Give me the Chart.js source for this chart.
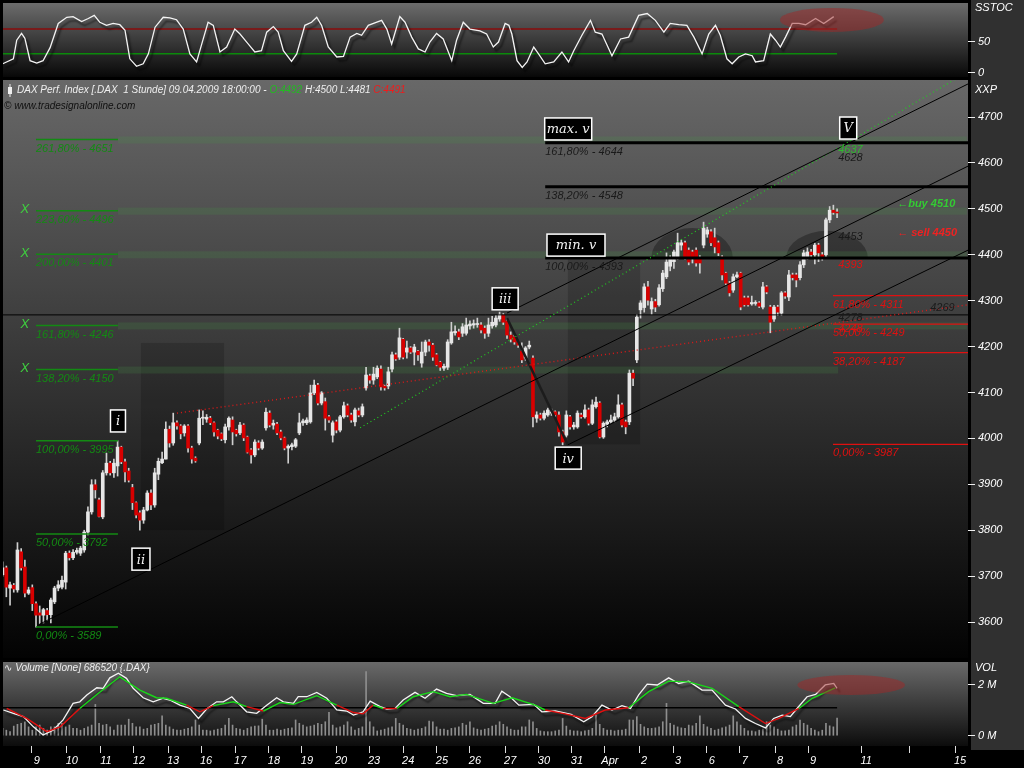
<!DOCTYPE html>
<html>
<head>
<meta charset="utf-8">
<script src="https://cdn.jsdelivr.net/npm/chart.js@4.4.1/dist/chart.umd.min.js"></script>
<style>
html, body { margin: 0; padding: 0; background: #000; width: 1024px; height: 768px; overflow: hidden; }
canvas { position: absolute; left: 0; display: block; }
</style>
</head>
<body>
<canvas id="stoc" width="1024" height="80" style="top:0"></canvas>
<canvas id="price" width="1024" height="580" style="top:80px"></canvas>
<canvas id="vol" width="1024" height="108" style="top:660px"></canvas>
<script>
// hourly DAX candles, 06.03.2009 - 09.04.2009 (one row per trading day)
var open = [
  3703,3718,3674,3680,3670,3753,3720,3663,3675,
  3640,3620,3615,3625,3616,3644,3674,3676,3687,
  3750,3740,3752,3750,3757,3796,3840,3899,3866,
  3829,3925,3946,3925,3940,3981,3949,3929,3893,
  3860,3838,3822,3844,3881,3855,3922,3947,3955,
  4020,3990,4034,4027,4012,4027,3979,3957,
  3990,4044,4042,4044,4034,4018,4010,3997,4025,
  4040,4018,4012,4029,4003,3975,3964,3990,3979,
  4023,4055,4029,4031,4014,4001,3979,3982,3983,
  4012,4034,4034,4036,4099,4116,4077,4080,4047,
  4007,4036,4018,4047,4071,4051,4036,4060,4051,
  4110,4136,4127,4134,4151,4114,4114,4151,4182,
  4177,4216,4188,4197,4188,4190,4164,4188,4210,
  4203,4182,4166,4153,4155,4208,4230,4232,4229,
  4229,4245,4247,4248,4247,4240,4229,4245,4247,
  4260,4269,4256,4225,4221,4210,4190,4175,4199,
  4175,4044,4051,4044,4051,4055,4058,4051,4014,
  4007,4047,4025,4025,4051,4047,4062,4033,4069,
  4077,4003,4031,4036,4040,4047,4073,4036,4036,4142,
  4171,4280,4285,4330,4282,4298,4291,4326,4352,
  4375,4385,4395,4421,4426,4410,4406,4410,4393,
  4421,4445,4450,4437,4426,4395,4360,4338,4323,
  4352,4360,4306,4306,4293,4294,4295,4286,4330,4286,
  4260,4286,4273,4317,4308,4356,4356,4350,4378,
  4395,4406,4400,4421,4400,4400,4476,4497,4492
];
var high = [
  3731,3722,3687,3684,3773,3760,3735,3676,3681,
  3644,3635,3630,3630,3652,3678,3690,3700,3754,
  3755,3758,3761,3765,3800,3851,3910,3910,3870,
  3930,3968,3950,3955,3995,3983,3955,3935,3900,
  3862,3842,3850,3886,3888,3935,3957,3970,4036,
  4027,4055,4038,4030,4030,4030,3983,3960,
  4062,4060,4052,4048,4036,4020,4012,4031,4047,
  4047,4020,4035,4032,4005,3978,3997,3995,3997,
  4066,4060,4040,4035,4018,4003,3986,3990,4000,
  4055,4042,4045,4116,4127,4120,4102,4088,4050,
  4038,4040,4050,4079,4075,4055,4066,4066,4075,
  4155,4140,4155,4158,4158,4116,4155,4188,4186,
  4240,4218,4212,4200,4205,4192,4210,4214,4215,
  4207,4185,4168,4162,4215,4253,4245,4238,4250,
  4262,4256,4258,4262,4252,4245,4262,4266,4268,
  4275,4272,4260,4232,4225,4212,4208,4200,4212,
  4180,4058,4055,4060,4066,4064,4060,4058,4018,
  4060,4050,4035,4060,4055,4073,4066,4084,4090,
  4080,4036,4040,4051,4055,4095,4077,4040,4149,4149,
  4270,4300,4337,4342,4306,4303,4335,4366,4404,
  4398,4410,4447,4432,4430,4415,4410,4415,4398,
  4471,4460,4455,4458,4430,4398,4362,4342,4358,
  4362,4362,4310,4310,4310,4300,4298,4340,4333,4290,
  4290,4290,4320,4320,4366,4360,4360,4385,4410,
  4415,4412,4425,4425,4405,4480,4505,4508,4500
];
var low = [
  3700,3655,3637,3665,3665,3713,3655,3660,3625,
  3589,3597,3598,3603,3598,3640,3668,3672,3672,
  3735,3736,3748,3745,3752,3790,3835,3870,3829,
  3825,3920,3920,3915,3918,3945,3905,3905,3845,
  3827,3800,3815,3842,3845,3850,3910,3945,3955,
  3981,3985,4020,3999,4005,3970,3946,3948,
  3986,4030,4035,4030,4005,3999,3995,3990,4018,
  3986,4005,4008,3995,3968,3946,3960,3975,3976,
  4018,4025,4020,4008,3997,3975,3946,3975,3980,
  4008,4028,4030,4033,4095,4073,4073,4018,4035,
  3992,4012,4014,4044,4047,4035,4027,4047,4047,
  4105,4120,4118,4130,4105,4105,4108,4145,4170,
  4172,4173,4175,4185,4160,4170,4155,4180,4190,
  4170,4158,4148,4148,4150,4205,4225,4215,4222,
  4225,4238,4240,4242,4230,4218,4222,4240,4243,
  4255,4248,4218,4210,4205,4198,4165,4170,4195,
  4025,4035,4040,4040,4048,4050,4046,4005,3986,
  4003,4020,4020,4022,4044,4044,4029,4030,4066,
  4001,4000,4025,4033,4036,4044,4025,4010,4030,4115,
  4165,4262,4275,4290,4270,4276,4288,4320,4348,
  4365,4370,4390,4410,4390,4378,4382,4375,4360,
  4415,4438,4420,4404,4398,4345,4335,4310,4318,
  4350,4280,4288,4288,4290,4290,4285,4282,4315,4230,
  4255,4268,4268,4305,4300,4345,4330,4345,4372,
  4390,4395,4380,4385,4388,4396,4470,4488,4481
];
var close = [
  3718,3676,3681,3672,3757,3718,3663,3670,3640,
  3615,3615,3627,3616,3648,3674,3681,3691,3750,
  3740,3752,3756,3761,3796,3840,3899,3888,3830,
  3925,3946,3925,3946,3981,3949,3927,3909,3860,
  3833,3822,3844,3881,3855,3925,3950,3955,4020,
  3990,4034,4027,4010,4027,3979,3955,3951,
  4044,4046,4046,4034,4014,4005,3999,4025,4044,
  4014,4010,4029,4001,3970,3964,3992,3979,3992,
  4057,4029,4033,4012,4001,3979,3983,3986,3997,
  4034,4038,4040,4099,4116,4077,4099,4044,4040,
  4034,4018,4047,4071,4051,4040,4062,4051,4069,
  4138,4127,4140,4153,4112,4110,4145,4182,4173,
  4219,4177,4197,4188,4199,4182,4188,4210,4203,
  4177,4160,4155,4157,4210,4232,4233,4221,4243,
  4247,4249,4250,4249,4236,4229,4247,4253,4262,
  4269,4253,4225,4216,4210,4203,4171,4197,4203,
  4047,4051,4044,4055,4062,4058,4051,4014,3992,
  4051,4025,4029,4055,4047,4062,4033,4073,4079,
  4003,4033,4036,4040,4047,4073,4029,4025,4142,4131,
  4264,4295,4330,4301,4298,4286,4328,4360,4384,
  4393,4406,4426,4426,4395,4384,4395,4382,4382,
  4458,4454,4426,4417,4404,4356,4338,4317,4352,
  4356,4286,4291,4291,4296,4296,4288,4330,4319,4253,
  4286,4275,4317,4310,4356,4350,4345,4378,4404,
  4406,4400,4421,4404,4395,4476,4497,4492,4491
];
// volume per candle, millions
var volume = [
  0.29,0.22,0.16,0.38,0.45,0.49,0.55,0.35,0.22,
  0.35,0.42,0.29,0.22,0.35,0.35,0.49,0.49,0.35,
  0.42,0.29,0.29,0.22,0.29,0.35,0.42,1.23,0.49,
  0.42,0.45,0.35,0.22,0.42,0.42,0.42,0.65,0.49,
  0.35,0.35,0.26,0.29,0.42,0.45,0.49,0.78,0.42,
  0.35,0.26,0.22,0.22,0.26,0.29,0.35,0.62,0.42,
  0.22,0.22,0.19,0.22,0.26,0.29,0.42,0.68,0.42,
  0.29,0.26,0.22,0.29,0.35,0.38,0.39,0.65,0.42,
  0.22,0.22,0.26,0.22,0.26,0.29,0.31,0.62,0.49,
  0.42,0.35,0.38,0.42,0.49,0.45,0.55,0.92,0.42,
  0.31,0.35,0.42,0.55,0.35,0.22,0.29,0.35,2.51,
  0.55,0.35,0.19,0.22,0.26,0.31,0.35,0.68,0.49,
  0.42,0.29,0.26,0.22,0.26,0.29,0.35,0.58,0.55,
  0.35,0.26,0.26,0.22,0.29,0.31,0.35,0.49,0.42,
  0.55,0.31,0.26,0.22,0.26,0.29,0.38,0.42,0.55,
  0.45,0.35,0.26,0.22,0.22,0.35,0.35,0.62,0.55,
  0.29,0.19,0.16,0.16,0.16,0.19,0.22,0.68,0.38,
  0.22,0.19,0.19,0.16,0.19,0.22,0.29,0.81,0.45,
  0.29,0.22,0.22,0.19,0.22,0.22,0.26,0.62,0.62,
  0.75,0.45,0.35,0.29,0.29,0.31,0.35,0.55,1.27,
  0.49,0.42,0.35,0.31,0.29,0.42,0.39,0.49,0.78,
  0.45,0.35,0.29,0.22,0.26,0.31,0.35,0.42,0.78,
  0.55,0.42,0.29,0.19,0.19,0.16,0.22,0.26,0.55,
  0.42,0.35,0.26,0.19,0.19,0.22,0.35,0.42,0.62,
  0.49,0.42,0.29,0.22,0.16,0.22,0.49,0.39,0.35,
  0.69
];

// SSTOC readings (candle position, value)
var stocIdx = [0,2.9,3.8,5.1,6,7.4,9.2,10.9,12.8,15,17.3,19,21.3,23.1,24.7,26.2,28,29.8,31.6,33,34.3,36.1,37.9,39.3,41.1,43.3,45.1,46.9,48.7,50.5,52.3,53.7,55.4,56.8,58.6,60.4,62.6,64,66.2,68,69.8,71.2,73,74.3,75.7,77.9,79.3,81.5,83.3,84.7,86,87.8,90.1,91.9,93.7,95.5,96.8,98.6,100.9,102.2,103.6,104.9,107.1,108.5,110.3,112.1,113.9,115.2,117,118.8,121.1,122.4,124.2,126,128.7,130.5,132.3,133.7,135.5,136.5,137.3,138.7,140.1,141.4,143.2,144.5,146.3,148.6,150.8,152.6,154,156.2,158.5,159.8,161.6,164.3,166.6,168.8,171.5,173.8,176,178.3,180,182.3,184.5,186.4,188.6,190.4,192.2,193.5,195.3,196.7,198.5,200.3,202.1,203,205.2,207,208.4,209.7,211.1,212.9,214.7,216.5,219.2,221.4,224.1];
var stocVal = [14,22,52,63,55,19,15,19,40,79,89,90,82,87,92,81,76,79,77,68,22,10,14,30,73,89,88,85,70,30,17,46,81,76,33,41,70,62,46,33,35,65,74,65,35,18,30,76,81,89,76,41,25,26,57,63,60,76,81,84,70,46,90,81,57,38,33,49,63,54,19,52,81,70,67,62,41,49,79,76,62,19,8,17,41,30,14,17,33,17,35,60,84,65,62,27,54,57,92,95,84,65,79,77,76,57,30,62,76,60,22,14,25,30,27,17,19,62,52,41,57,79,79,77,87,79,90];
var stocHigh = 70, stocLow = 30;

// volume oscillator lines (candle position, millions)
var volLineIdx = [0.2,2.9,5.6,8.3,10.9,13.6,16.3,19,20.8,22.7,25.4,27.1,28.9,31.2,33.4,35.2,37.9,40.6,43.3,45.1,47.8,50.5,52.8,55,57.7,59.5,61.8,63.1,65.8,68.5,71.2,73.9,75.7,78.4,79.7,82,84.7,87.4,90.1,92.8,94.6,97.2,99.1,101.8,103.6,105.8,108,111.2,113.9,117,119.7,122.4,126,129.6,132.8,134.6,136.8,139.2,143.2,145.4,149,153.3,156.7,158.9,161.6,164.3,167,169.3,171.5,173.8,176.5,179.6,182.3,185,188.6,191.3,194.9,197.6,200.3,203,205.7,207.9,210.2,212.4,214.2,216.9,219.2,221.8,224.1,225];
var volLineVal = [1.01,0.88,0.75,0.35,0.03,0.22,0.62,1.27,1.33,1.6,1.88,1.86,2.27,2.45,2.25,1.86,1.49,1.33,1.47,1.4,1.2,1.07,0.68,1.05,1.33,1.33,1.53,1.33,0.94,0.88,1.2,1.49,1.33,1.27,1.53,1.53,1.7,1.47,1.01,0.97,0.81,0.94,1.36,1.14,1.05,1.07,1.4,1.7,1.47,1.83,1.66,1.57,1.62,1.27,1.27,1.75,1.53,1.2,1.23,0.94,0.97,0.84,0.55,0.75,1.2,1.01,1.18,1.07,1.6,2.02,1.99,2.27,2.05,2.14,1.79,1.79,1.2,1.05,0.68,0.48,0.31,0.68,0.81,0.75,1.07,1.53,1.62,1.99,2.05,1.86];
var volAvgIdx = [1.1,6.5,11.9,15.5,20.8,25.4,31.6,37,41.5,44.2,49.6,53.2,56.8,62.2,65.8,70.3,74.8,78.4,84.7,90.1,94.6,97.2,99.9,102.6,106.3,110.7,116.1,120.6,125.1,132.3,137.4,143.6,146.3,151.7,157.1,162.5,168.8,174.2,179.6,185,191.3,198.5,205.7,209.3,214.7,218.3,224.5];
var volAvgVal = [1.07,0.68,0.16,0.35,1.07,1.62,2.31,1.79,1.49,1.47,1.2,0.94,1.18,1.33,1.14,0.97,1.3,1.23,1.57,1.2,0.91,0.86,1.2,1.07,1.07,1.53,1.73,1.53,1.62,1.27,1.49,1.2,1.01,0.86,0.68,1.01,1.1,1.73,2.14,2.11,1.86,1.14,0.48,0.68,1.07,1.47,1.88];
var volLevel = 1.1;

// axis ticks
var dayTickPos = [7.9,17.3,26.5,35.4,44.6,53.5,62.7,71.8,80.7,89.9,98.8,108,117.1,126,135.5,144.6,153.5,162.4,171.6,180.8,189.9,198.8,208.3,217.2,231.5,244.4,256.8];
var dayLabels = ['9','10','11','12','13','16','17','18','19','20','23','24','25','26','27','30','31','Apr','2','3','6','7','8','9','11','','15'];
var priceTicks = [3600,3700,3800,3900,4000,4100,4200,4300,4400,4500,4600,4700];
var stocTicks = [0, 50], stocTickLabels = ['0', '50'];
var volTicks = [0, 2], volTickLabels = ['0 M', '2 M'];

// fibonacci levels and annotations
var fibGreen = [4651, 4496, 4401, 4246, 4150];
var fibGreenPct = ['261,80%', '223,60%', '200,00%', '161,80%', '138,20%'];
var fibGreenBandEnd = [260, 260, 260, 260, 225.3];
var fibGreenMarked = [4496, 4401, 4246, 4150];
var fibWave = [3995, 3792, 3589];
var fibWavePct = ['100,00%', '50,00%', '0,00%'];
var fibBlack = [4644, 4548, 4393];
var fibBlackPct = ['161,80%', '138,20%', '100,00%'];
var fibRed = [4311, 4249, 4187, 3987];
var fibRedPct = ['61,80%', '50,00%', '38,20%', '0,00%'];
var level4269 = 4269;

var trendLines = [
  { p: [[10.1, 3596], [260.3, 4593]], color: '#000', w: 1 },
  { p: [[152.4, 3986], [260.3, 4410]], color: '#000', w: 1 },
  { p: [[136, 4273], [260.3, 4772]], color: '#000', w: 1 },
  { p: [[96.4, 4023], [256.8, 4782]], color: '#22cc22', w: 1.2, dash: [1, 3] },
  { p: [[47, 4055], [260.3, 4291]], color: '#e01818', w: 1.4, dash: [1, 3] },
  { p: [[136, 4262], [152.4, 3986]], color: '#1c1c1c', w: 2.5 }
];
var waveBoxes = [
  ['i', 31.1, 4038, 15], ['ii', 37.3, 3737, 18], ['iii', 135.5, 4304, 26],
  ['iv', 152.5, 3957, 26], ['min. v', 154.6, 4421, 58], ['max. v', 152.5, 4674, 47], ['V', 228, 4676, 17]
];
var shadeBoxes = [[37.3, 59.7, 4208, 3800], [152.4, 171.9, 4393, 3987]];
var domes = [[185.9, 4393, 11, 65], [222.3, 4393, 11, 59]];
var notes = [
  ['4637', 225.3, 4628, '#2fb82f', ''], ['4628', 225.3, 4611, '#1a1a1a', ''],
  ['4453', 225.3, 4439, '#1a1a1a', ''], ['4393', 225.3, 4378, '#e01010', ''],
  ['4278', 225.3, 4262, '#1a1a1a', ''], ['4248', 225.3, 4238, '#e01010', ''],
  ['4269', 250.1, 4284, '#1a1a1a', ''],
  ['\u2190buy 4510', 241.2, 4511, '#33cc33', 'bold'], ['\u2190 sell 4450', 241.2, 4447, '#ee2222', 'bold']
];

var X_MIN = 0.1, X_MAX = 260.3;
var FAM = '"Liberation Sans", "DejaVu Sans", sans-serif';
var TICKFONT = { family: FAM, size: 11, style: 'italic' };
function f(size, weight) { return 'italic ' + (weight || '') + ' ' + size + 'px ' + FAM; }
var idx = open.map(function (_, i) { return i; });

function xAxis(show) {
  return {
    type: 'linear', min: X_MIN, max: X_MAX, display: show, offset: false,
    grid: { display: show, drawOnChartArea: false, color: '#ddd', tickLength: 7, offset: false },
    border: { display: false },
    afterBuildTicks: function (s) { s.ticks = dayTickPos.map(function (v) { return { value: v }; }); },
    afterFit: function (s) { if (show) s.height = 22; s.paddingLeft = 0; s.paddingRight = 0; },
    ticks: { color: '#fff', font: TICKFONT, labelOffset: 5, padding: 1, maxRotation: 0, autoSkip: false,
      callback: function (v, i) { return dayLabels[i]; } }
  };
}
function yAxis(min, max, ticks, labels) {
  return {
    position: 'right', min: min, max: max,
    grid: { drawOnChartArea: false, color: '#eee', tickLength: 7 },
    border: { display: false },
    afterBuildTicks: function (s) { s.ticks = ticks.map(function (v) { return { value: v }; }); },
    afterFit: function (s) { s.width = 56; s.paddingTop = 0; s.paddingBottom = 0; },
    ticks: { color: '#fff', font: TICKFONT, padding: 3, autoSkip: false,
      callback: function (v, i) { return labels[i]; } }
  };
}
function seg(x0, x1, v, color, w, dash) {
  return { type: 'line', data: [{ x: x0, y: v }, { x: x1, y: v }], borderColor: color, borderWidth: w,
    borderDash: dash || [], pointRadius: 0, fill: false, order: -1 };
}

var bgPlugin = {
  id: 'bg',
  beforeDraw: function (chart, args, o) {
    var c = chart.ctx, a = chart.chartArea;
    c.save();
    c.fillStyle = '#000'; c.fillRect(0, 0, chart.width, chart.height);
    var g = c.createLinearGradient(0, a.top, 0, a.bottom);
    g.addColorStop(0, o.top); g.addColorStop(1, o.bottom);
    c.fillStyle = g; c.fillRect(a.left, a.top, a.right - a.left, a.bottom - a.top);
    c.fillStyle = '#303030';
    c.fillRect(a.right + 3, 0, chart.width - a.right - 3, o.stripToArea ? a.bottom + 4 : chart.height);
    c.fillStyle = '#fff'; c.font = f(11); c.textBaseline = 'middle'; c.textAlign = 'left';
    c.fillText(o.title, a.right + 7, o.titleY);
    c.restore();
  }
};
var shadowPlugin = {
  id: 'shadow',
  beforeDatasetDraw: function (chart, args) {
    if (!chart.data.datasets[args.index].shadow) return;
    var c = chart.ctx; c.save();
    c.shadowColor = 'rgba(0,0,0,0.6)'; c.shadowOffsetX = 3; c.shadowOffsetY = 4; c.shadowBlur = 2;
  },
  afterDatasetDraw: function (chart, args) {
    if (chart.data.datasets[args.index].shadow) chart.ctx.restore();
  }
};
function redBlob(cx, cy, rx, ry) {
  return {
    id: 'blob',
    afterDatasetsDraw: function (chart) {
      var c = chart.ctx, x = chart.scales.x, y = chart.scales.y;
      var px = x.getPixelForValue(cx), py = y.getPixelForValue(cy);
      c.save();
      c.fillStyle = 'rgba(160,40,40,0.5)';
      c.beginPath();
      c.ellipse(px, py, x.getPixelForValue(cx + rx) - px, py - y.getPixelForValue(cy + ry), 0, 0, Math.PI * 2);
      c.fill();
      c.restore();
    }
  };
}

// ---------- SSTOC panel ----------
new Chart(document.getElementById('stoc'), {
  type: 'line',
  data: { datasets: [
    seg(0, 225, stocHigh, '#8a0c0c', 1.5),
    seg(0, 225, stocLow, '#0b8a0b', 1.5),
    { data: stocIdx.map(function (v, i) { return { x: v, y: stocVal[i] }; }), borderColor: '#f4f4f4',
      borderWidth: 1.3, pointRadius: 0, tension: 0, shadow: true, order: -2 }
  ] },
  options: {
    responsive: false, animation: false, events: [],
    layout: { padding: { left: 3, top: 3, bottom: 3, right: 0 } },
    plugins: { legend: { display: false }, tooltip: { enabled: false },
      bg: { top: '#6c6c6c', bottom: '#080808', title: 'SSTOC', titleY: 8 } },
    scales: { x: xAxis(false), y: yAxis(-7.3, 112, stocTicks, stocTickLabels) }
  },
  plugins: [bgPlugin, shadowPlugin, redBlob(223.6, 84.7, 14, 19.4)]
});

// ---------- price panel ----------
var mainDecor = {
  id: 'mainDecor',
  beforeDatasetsDraw: function (chart) {
    var c = chart.ctx, a = chart.chartArea, x = chart.scales.x, y = chart.scales.y;
    c.save();
    c.beginPath(); c.rect(a.left, a.top, a.right - a.left, a.bottom - a.top); c.clip();
    c.fillStyle = 'rgba(0,0,0,0.17)';
    shadeBoxes.forEach(function (b) {
      var x0 = x.getPixelForValue(b[0]), x1 = x.getPixelForValue(b[1]);
      var y0 = y.getPixelForValue(b[2]), y1 = y.getPixelForValue(b[3]);
      c.fillRect(x0, y0, x1 - x0, y1 - y0);
    });
    c.fillStyle = 'rgba(0,0,0,0.3)';
    domes.forEach(function (d) {
      var cx = x.getPixelForValue(d[0]), cy = y.getPixelForValue(d[1]);
      var rx = x.getPixelForValue(d[0] + d[2]) - cx, ry = cy - y.getPixelForValue(d[1] + d[3]);
      c.beginPath(); c.ellipse(cx, cy, rx, ry, 0, Math.PI, Math.PI * 2); c.closePath(); c.fill();
    });
    c.fillStyle = 'rgba(70,150,70,0.2)';
    fibGreen.forEach(function (lv, i) {
      var yy = y.getPixelForValue(lv), x0 = x.getPixelForValue(31.1), x1 = x.getPixelForValue(fibGreenBandEnd[i]);
      c.fillRect(x0, yy - 3, x1 - x0, 7);
    });
    c.restore();
  },
  afterDatasetsDraw: function (chart) {
    var c = chart.ctx, a = chart.chartArea, x = chart.scales.x, y = chart.scales.y;
    c.save();
    c.beginPath(); c.rect(a.left, a.top, a.right - a.left, a.bottom - a.top); c.clip();
    c.textBaseline = 'middle'; c.textAlign = 'left';
    function fibText(levels, pcts, xi, color) {
      c.fillStyle = color; c.font = f(11);
      levels.forEach(function (lv, i) {
        c.fillText(pcts[i] + ' - ' + lv, x.getPixelForValue(xi), y.getPixelForValue(lv) + 9);
      });
    }
    fibText(fibGreen, fibGreenPct, 9.0, '#138a13');
    fibText(fibWave, fibWavePct, 9.0, '#138a13');
    fibText(fibBlack, fibBlackPct, 146.3, '#1a1a1a');
    fibText(fibRed, fibRedPct, 223.9, '#e01010');
    c.fillStyle = '#3fcf3f'; c.font = f(13); c.textAlign = 'center';
    fibGreenMarked.forEach(function (lv) { c.fillText('X', x.getPixelForValue(6), y.getPixelForValue(lv) - 1); });
    c.textAlign = 'left';
    notes.forEach(function (n) {
      c.fillStyle = n[3]; c.font = f(11, n[4]);
      c.fillText(n[0], x.getPixelForValue(n[1]), y.getPixelForValue(n[2]));
    });
    waveBoxes.forEach(function (b) {
      var cx = x.getPixelForValue(b[1]), cy = y.getPixelForValue(b[2]), w = b[3], h = 22;
      c.fillStyle = '#000'; c.fillRect(cx - w / 2, cy - h / 2, w, h);
      c.strokeStyle = '#fff'; c.lineWidth = 1.5; c.strokeRect(cx - w / 2, cy - h / 2, w, h);
      c.fillStyle = '#f2f2f2'; c.font = 'italic 13px "DejaVu Serif", serif'; c.textAlign = 'center';
      c.fillText(b[0], cx, cy + 1);
      c.textAlign = 'left';
    });
    // header
    var hx = a.left + 14, hy = a.top + 10;
    c.fillStyle = '#eee'; c.fillRect(a.left + 5, hy - 3, 4, 7); c.fillRect(a.left + 6.5, hy - 6, 1, 13);
    c.font = f(10);
    var parts = [['DAX Perf. Index [.DAX  1 Stunde] 09.04.2009 18:00:00 - ', '#eee'], ['O:4492', '#22bb22'],
      [' H:4500 L:4481 ', '#eee'], ['C:4491', '#ee1c1c']];
    parts.forEach(function (p) { c.fillStyle = p[1]; c.fillText(p[0], hx, hy); hx += c.measureText(p[0]).width; });
    c.fillStyle = '#101010';
    c.fillText('\u00a9 www.tradesignalonline.com', a.left + 1, a.top + 26);
    c.restore();
  }
};

var priceSets = [
  { type: 'bar', data: idx.map(function (i) { return { x: i, y: [low[i], high[i]] }; }),
    backgroundColor: '#cfcfcf', barThickness: 1, grouped: false, order: 2 },
  { type: 'bar', data: idx.map(function (i) { return { x: i, y: [open[i], close[i]] }; }),
    backgroundColor: idx.map(function (i) { return close[i] >= open[i] ? '#e6e6e6' : '#d80000'; }),
    barThickness: 3, minBarLength: 1, grouped: false, order: 1 }
];
trendLines.forEach(function (t) {
  priceSets.push({ type: 'line', data: t.p.map(function (p) { return { x: p[0], y: p[1] }; }),
    borderColor: t.color, borderWidth: t.w, borderDash: t.dash || [], pointRadius: 0, fill: false, order: -1 });
});
fibBlack.forEach(function (lv) { priceSets.push(seg(146.3, 260.3, lv, '#000', 3)); });
fibRed.forEach(function (lv) { priceSets.push(seg(223.9, 260.3, lv, '#e01010', 1.2)); });
fibGreen.concat(fibWave).forEach(function (lv) { priceSets.push(seg(9.0, 31.1, lv, '#138a13', 1.5)); });
priceSets.push(seg(0, 260.3, level4269, '#000', 1));

new Chart(document.getElementById('price'), {
  type: 'bar',
  data: { datasets: priceSets },
  options: {
    responsive: false, animation: false, events: [],
    layout: { padding: { left: 3, top: 0, bottom: 2, right: 0 } },
    plugins: { legend: { display: false }, tooltip: { enabled: false },
      bg: { top: '#686868', bottom: '#030303', title: 'XXP', titleY: 10 } },
    scales: { x: xAxis(false), y: yAxis(3521.7, 4780.6, priceTicks, priceTicks.map(String)) }
  },
  plugins: [bgPlugin, mainDecor]
});

// ---------- volume panel ----------
var volHeader = {
  id: 'volHeader',
  afterDatasetsDraw: function (chart) {
    var c = chart.ctx, a = chart.chartArea;
    c.save(); c.fillStyle = '#eee'; c.font = f(10); c.textBaseline = 'middle';
    c.fillText('\u223f Volume [None] 686520 {.DAX}', a.left + 1, a.top + 6);
    c.restore();
  }
};
new Chart(document.getElementById('vol'), {
  type: 'bar',
  data: { datasets: [
    { type: 'bar', data: idx.map(function (i) { return { x: i, y: volume[i] }; }),
      backgroundColor: '#8e8e8e', barThickness: 1, order: 3 },
    seg(0, 225, volLevel, '#000', 1.5),
    { type: 'line', data: volLineIdx.map(function (v, i) { return { x: v, y: volLineVal[i] }; }),
      borderColor: '#f4f4f4', borderWidth: 1.3, pointRadius: 0, shadow: true, order: -2 },
    { type: 'line', data: volAvgIdx.map(function (v, i) { return { x: v, y: volAvgVal[i] }; }),
      borderWidth: 1.4, pointRadius: 0, order: -3,
      segment: { borderColor: function (s) { return (s.p0.parsed.y + s.p1.parsed.y) / 2 >= volLevel ? '#19d919' : '#e01010'; } } }
  ] },
  options: {
    responsive: false, animation: false, events: [],
    layout: { padding: { left: 3, top: 2, bottom: 0, right: 0 } },
    plugins: { legend: { display: false }, tooltip: { enabled: false },
      bg: { top: '#6a6a6a', bottom: '#0c0c0c', title: 'VOL', titleY: 8, stripToArea: true } },
    scales: { x: xAxis(true), y: yAxis(-0.40, 2.89, volTicks, volTickLabels) }
  },
  plugins: [bgPlugin, shadowPlugin, volHeader, redBlob(228.8, 1.99, 14.5, 0.39)]
});
</script>
</body>
</html>
